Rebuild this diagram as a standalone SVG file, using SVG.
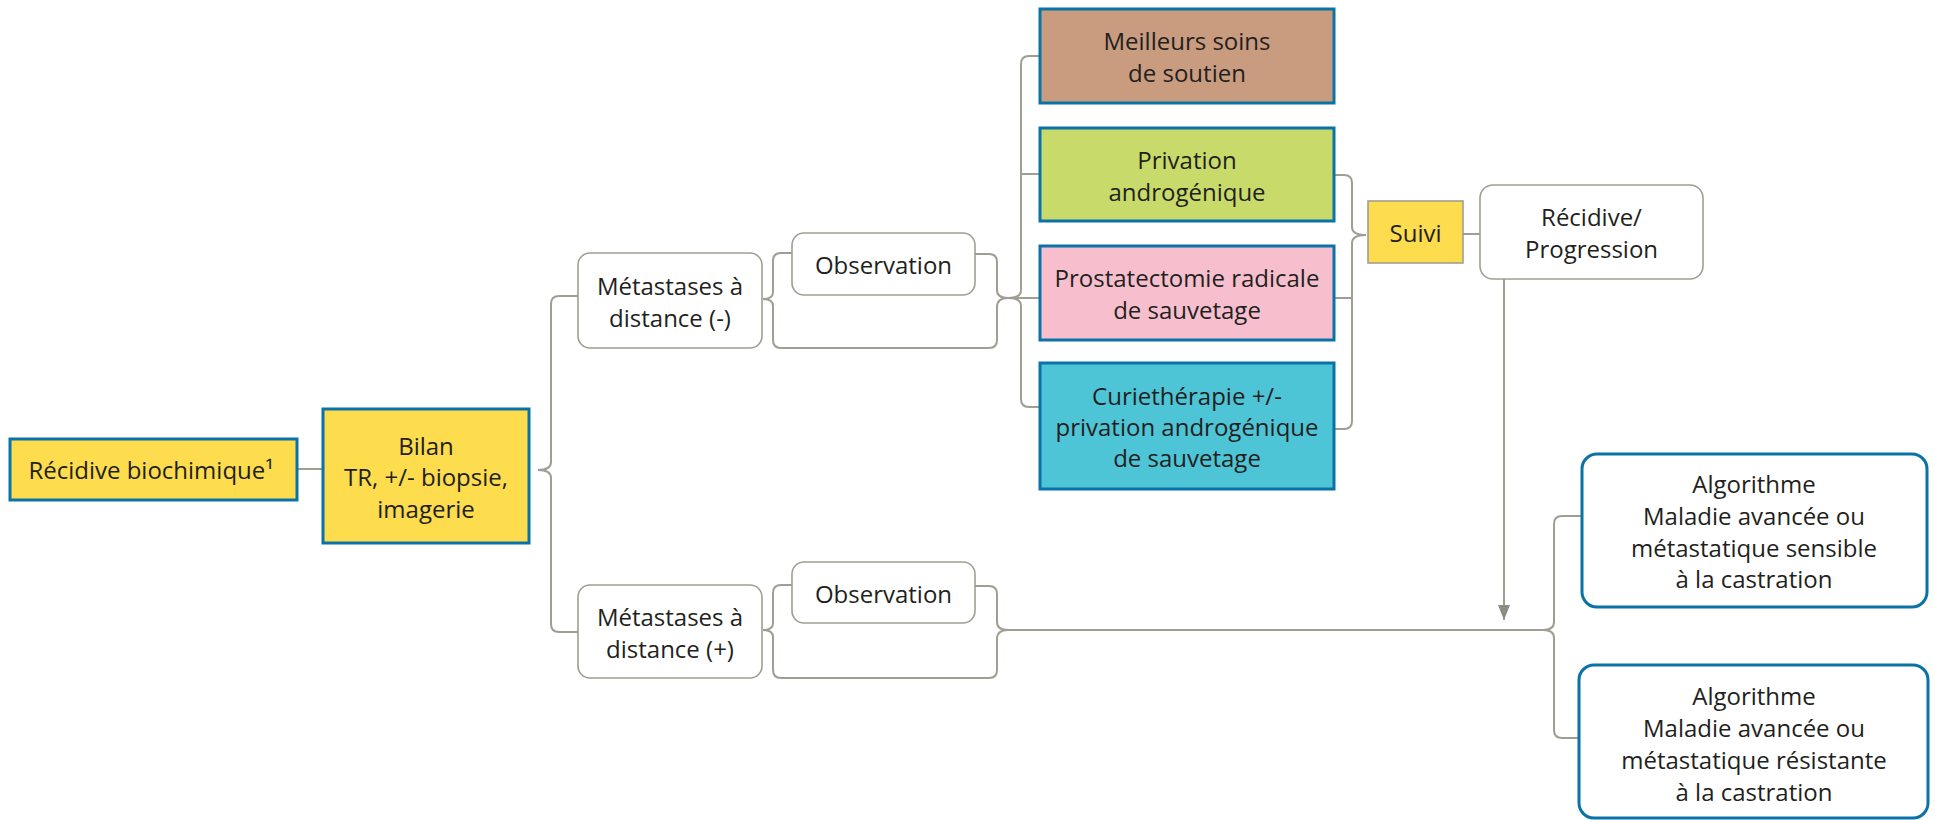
<svg xmlns="http://www.w3.org/2000/svg" width="1935" height="820" viewBox="0 0 1935 820">
  <defs>
    <style>
      text { font-family: "Open Sans", "Liberation Sans", sans-serif; font-size: 24px; fill: #231F20; text-anchor: middle; }
      .box-blue { stroke: #0B72A7; stroke-width: 3; }
      .box-gray { fill: #FFFFFF; stroke: #A09E93; stroke-width: 1.6; }
      .yellow { fill: #FDDC4E; }
      .brown { fill: #C99B7F; }
      .green { fill: #C8DB6A; }
      .pink { fill: #F7BFCE; }
      .cyan { fill: #4EC4D7; }
      .algo { fill: #FFFFFF; stroke: #0B72A7; stroke-width: 3; }
      .link { fill: none; stroke: #A09E93; stroke-width: 2; }
    </style>
    <!-- triangular head pointing along the path direction -->
    <marker id="arrowhead" markerUnits="userSpaceOnUse" markerWidth="16" markerHeight="14" refX="15" refY="7" orient="auto" viewBox="0 0 16 14">
      <path d="M0,1 L15,7 L0,13 Z" fill="#8E8D82"/>
    </marker>
  </defs>

  <!-- connectors -->
  <g id="connectors">
    <!-- Récidive biochimique to Bilan -->
    <path class="link" d="M297,469 H323"/>
    <!-- Bilan brace to both metastasis branches -->
    <path class="link" d="M578,296 H559 Q551,296 551,304 V462 Q551,470 538,470 Q551,470 551,478 V624 Q551,632 559,632 H578"/>
    <!-- Métastases (-) brace: Observation and bypass -->
    <path class="link" d="M792,253 H781 Q773,253 773,261 V292 Q773,299 763,299 Q773,299 773,306 V340 Q773,348 781,348 H989 Q997,348 997,340 V307 Q997,298 1008,298"/>
    <path class="link" d="M975,254 H989 Q997,254 997,262 V290 Q997,298 1008,298"/>
    <!-- brace to treatment options -->
    <path class="link" d="M1040,56 H1029 Q1021,56 1021,64 V290 Q1021,298 1008,298 Q1021,298 1021,306 V399 Q1021,407 1029,407 H1040"/>
    <path class="link" d="M1021,174 H1040"/>
    <path class="link" d="M1008,298 H1040"/>
    <!-- treatments brace to Suivi -->
    <path class="link" d="M1334,175 H1344 Q1352,175 1352,183 V227 Q1352,235 1366,235 Q1352,235 1352,243 V421 Q1352,429 1344,429 H1334"/>
    <path class="link" d="M1334,298 H1352"/>
    <!-- Suivi to Récidive/Progression -->
    <path class="link" d="M1463,234 H1480"/>
    <!-- Récidive/Progression down to the advanced-disease split -->
    <path class="link" d="M1504,279 V620" marker-end="url(#arrowhead)"/>
    <!-- Métastases (+) brace: Observation and bypass -->
    <path class="link" d="M792,585 H781 Q773,585 773,593 V623 Q773,630 763,630 Q773,630 773,637 V670 Q773,678 781,678 H989 Q997,678 997,670 V639 Q997,630 1008,630"/>
    <path class="link" d="M975,586 H989 Q997,586 997,594 V622 Q997,630 1008,630"/>
    <path class="link" d="M1008,630 H1543"/>
    <!-- brace to the two algorithms -->
    <path class="link" d="M1582,516 H1562 Q1554,516 1554,524 V622 Q1554,630 1543,630 Q1554,630 1554,638 V730 Q1554,738 1562,738 H1579"/>
  </g>

  <g id="recidive-biochimique">
    <rect class="box-blue yellow" x="10" y="439" width="287" height="61"/>
    <text x="151" y="479">Récidive biochimique¹</text>
  </g>

  <g id="bilan">
    <rect class="box-blue yellow" x="323" y="409" width="206" height="134"/>
    <text x="426" y="454.5">Bilan</text>
    <text x="426" y="486">TR, +/- biopsie,</text>
    <text x="426" y="517.5">imagerie</text>
  </g>

  <g id="metastases-negatives">
    <rect class="box-gray" x="578" y="253" width="184" height="95" rx="12"/>
    <text x="670" y="294.5">Métastases à</text>
    <text x="670" y="326.5">distance (-)</text>
  </g>

  <g id="observation-1">
    <rect class="box-gray" x="792" y="233" width="183" height="62" rx="12"/>
    <text x="883.5" y="274">Observation</text>
  </g>

  <g id="metastases-positives">
    <rect class="box-gray" x="578" y="585" width="184" height="93" rx="12"/>
    <text x="670" y="625.5">Métastases à</text>
    <text x="670" y="657.5">distance (+)</text>
  </g>

  <g id="observation-2">
    <rect class="box-gray" x="792" y="562" width="183" height="61" rx="12"/>
    <text x="883.5" y="602.5">Observation</text>
  </g>

  <g id="soins-soutien">
    <rect class="box-blue brown" x="1040" y="9" width="294" height="94"/>
    <text x="1187" y="50">Meilleurs soins</text>
    <text x="1187" y="82">de soutien</text>
  </g>

  <g id="privation-androgenique">
    <rect class="box-blue green" x="1040" y="128" width="294" height="93"/>
    <text x="1187" y="168.5">Privation</text>
    <text x="1187" y="200.5">androgénique</text>
  </g>

  <g id="prostatectomie">
    <rect class="box-blue pink" x="1040" y="246" width="294" height="94"/>
    <text x="1187" y="287">Prostatectomie radicale</text>
    <text x="1187" y="319">de sauvetage</text>
  </g>

  <g id="curietherapie">
    <rect class="box-blue cyan" x="1040" y="363" width="294" height="126"/>
    <text x="1187" y="405">Curiethérapie +/-</text>
    <text x="1187" y="436">privation androgénique</text>
    <text x="1187" y="467">de sauvetage</text>
  </g>

  <g id="suivi">
    <rect class="yellow" x="1368" y="201" width="95" height="62" stroke="#A09E93" stroke-width="1.6"/>
    <text x="1415.5" y="242">Suivi</text>
  </g>

  <g id="recidive-progression">
    <rect class="box-gray" x="1480" y="185" width="223" height="94" rx="13"/>
    <text x="1591.5" y="225.5">Récidive/</text>
    <text x="1591.5" y="257.5">Progression</text>
  </g>

  <g id="algorithme-sensible">
    <rect class="algo" x="1582" y="454" width="345" height="153" rx="15"/>
    <text x="1754" y="493">Algorithme</text>
    <text x="1754" y="525">Maladie avancée ou</text>
    <text x="1754" y="557">métastatique sensible</text>
    <text x="1754" y="588">à la castration</text>
  </g>

  <g id="algorithme-resistante">
    <rect class="algo" x="1579" y="665" width="349" height="153" rx="15"/>
    <text x="1754" y="705">Algorithme</text>
    <text x="1754" y="737">Maladie avancée ou</text>
    <text x="1754" y="769">métastatique résistante</text>
    <text x="1754" y="801">à la castration</text>
  </g>
</svg>
